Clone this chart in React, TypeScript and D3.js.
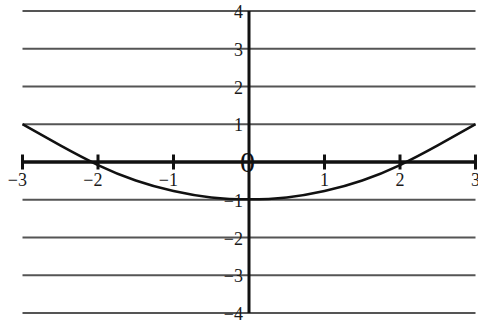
import React from "react";
import * as d3 from "d3";

const W = 478;
const H = 325;

const xTicks = [-3, -2, -1, 0, 1, 2, 3];
const yTicks = [-4, -3, -2, -1, 1, 2, 3, 4];
const xLabels = ["−3", "−2", "−1", "", "1", "2", "3"];
const yLabels = ["−4", "−3", "−2", "−1", "1", "2", "3", "4"];

const curveX = [-3, -2.5, -2, -1.5, -1, -0.5, 0, 0.5, 1, 1.5, 2, 2.5, 3];
const curveY = [1, 0.44, -0.08, -0.49, -0.77, -0.94, -0.99, -0.94, -0.77, -0.49, -0.08, 0.44, 1];

export default function App() {
  const x = d3.scaleLinear().domain([-3, 3]).range([22.5, 475.5]);
  const y = d3.scaleLinear().domain([-4, 4]).range([313, 11]);
  const pts: [number, number][] = curveX.map((v, i) => [v, curveY[i]]);
  const line = d3
    .line<[number, number]>()
    .x((d) => x(d[0]))
    .y((d) => y(d[1]))
    .curve(d3.curveNatural);
  const font = "'Liberation Serif', 'Times New Roman', serif";
  return (
    <svg
      width={W}
      height={H}
      style={{ position: "absolute", left: 0, top: 0, background: "#fff" }}
    >
      {yTicks.map((t) => (
        <line
          key={"g" + t}
          x1={x(-3)}
          x2={x(3)}
          y1={y(t)}
          y2={y(t)}
          stroke="#555"
          strokeWidth={1.8}
        />
      ))}
      <line x1={x(0)} x2={x(0)} y1={y(4)} y2={y(-4)} stroke="#111" strokeWidth={3} />
      <line x1={x(-3)} x2={x(3)} y1={y(0)} y2={y(0)} stroke="#111" strokeWidth={3.5} />
      {xTicks
        .filter((t) => t !== 0)
        .map((t) => (
          <line
            key={"t" + t}
            x1={x(t)}
            x2={x(t)}
            y1={y(0) - 7.5}
            y2={y(0) + 7.5}
            stroke="#111"
            strokeWidth={3}
          />
        ))}
      <path d={line(pts) || ""} fill="none" stroke="#111" strokeWidth={2.5} />
      {xTicks.map((t, i) =>
        xLabels[i] ? (
          <text
            key={"xl" + t}
            x={t < 0 ? x(t) + 4.5 : x(t)}
            y={y(0) + 24}
            textAnchor={t < 0 ? "end" : "middle"}
            fontFamily={font}
            fontSize={18}
            fill="#1a1a1a"
          >
            {xLabels[i]}
          </text>
        ) : null
      )}
      {yTicks.map((t, i) => (
        <text
          key={"yl" + t}
          x={243}
          y={y(t) + 7}
          textAnchor="end"
          fontFamily={font}
          fontSize={18}
          fill="#1a1a1a"
        >
          {yLabels[i]}
        </text>
      ))}
      <text
        x={x(0) - 1.5}
        y={y(0) + 10}
        textAnchor="middle"
        fontFamily={font}
        fontSize={30}
        fill="#111"
      >
        0
      </text>
    </svg>
  );
}
